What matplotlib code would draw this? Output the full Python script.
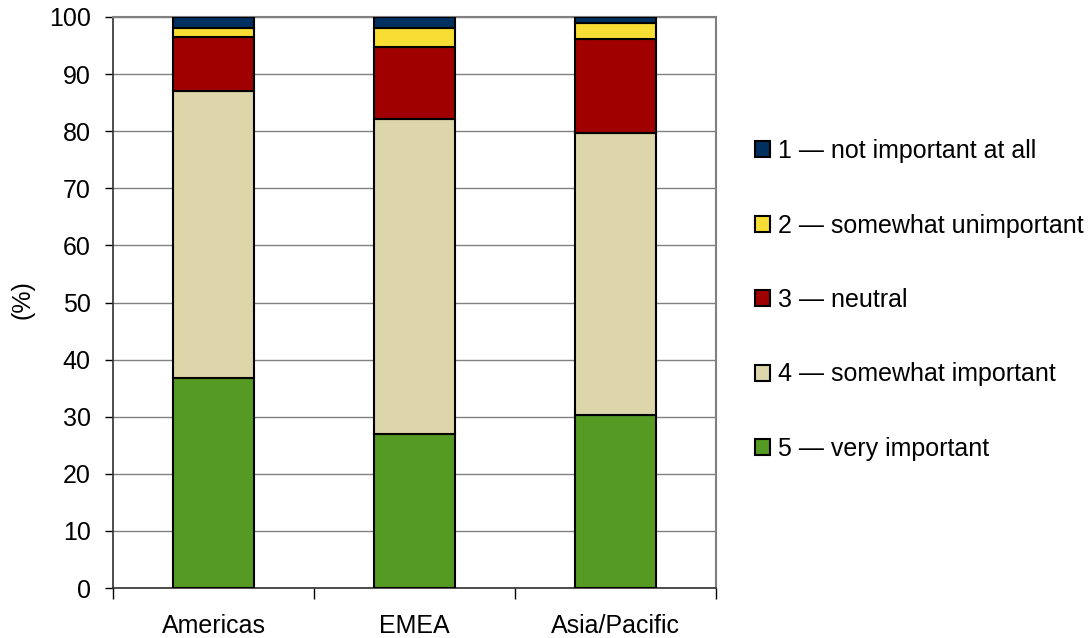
import matplotlib
matplotlib.use("Agg")
import matplotlib.pyplot as plt
from matplotlib.patches import Patch
import numpy as np

plt.rcParams['font.family'] = ['Liberation Sans', 'DejaVu Sans']

regions = ["Americas", "EMEA", "Asia/Pacific"]
series_labels = ["5 \u2014 very important", "4 \u2014 somewhat important",
                 "3 \u2014 neutral", "2 \u2014 somewhat unimportant",
                 "1 \u2014 not important at all"]
very_important = [36.8, 27.0, 30.3]
somewhat_important = [50.2, 55.2, 49.4]
neutral = [9.5, 12.6, 16.4]
somewhat_unimportant = [1.5, 3.2, 2.9]
not_important = [2.0, 2.0, 1.0]
colors = ["#559A22", "#DDD6AA", "#A00000", "#F8DE34", "#00305F"]

series = [very_important, somewhat_important, neutral,
          somewhat_unimportant, not_important]

FS = 18

fig = plt.figure(figsize=(10.92, 6.38), dpi=100)
ax = fig.add_axes([113 / 1092, 1 - 588 / 638, (716 - 113) / 1092, (588 - 17) / 638])

x = np.arange(len(regions))
bottom = np.zeros(len(regions))
for vals, col in zip(series, colors):
    ax.bar(x, vals, width=0.4, bottom=bottom, color=col,
           edgecolor="black", linewidth=1.5, zorder=3)
    bottom += np.array(vals)

ax.set_xlim(-0.5, len(regions) - 0.5)
ax.set_ylim(0, 100)
ax.set_yticks(np.arange(0, 101, 10))
ax.tick_params(axis='y', labelsize=FS, length=6, direction='out', width=1, pad=10)
ax.yaxis.grid(True, color="#808080", linewidth=1, zorder=0)
ax.set_axisbelow(True)

# category ticks sit between the groups
ax.set_xticks(np.arange(-0.5, len(regions), 1.0))
ax.set_xticklabels([])
ax.set_xticks(x, minor=True)
ax.set_xticklabels(regions, minor=True)
ax.tick_params(axis='x', which='major', length=8, width=1, color="black")
ax.tick_params(axis='x', which='minor', length=0, labelsize=FS, pad=19)

for s in ["top", "right"]:
    ax.spines[s].set_color("#808080")
    ax.spines[s].set_linewidth(1.5)
for s in ["left", "bottom"]:
    ax.spines[s].set_color("#303030")
    ax.spines[s].set_linewidth(1.2)

fig.text(22 / 1092, 1 - 300 / 638, "(%)", rotation=90, fontsize=FS,
         ha="center", va="center")

handles = [Patch(facecolor=c, edgecolor="black", linewidth=1.5) for c in colors]
leg = fig.legend(handles[::-1], series_labels[::-1], loc="upper left",
                 bbox_to_anchor=(745 / 1092, 1 - 129 / 638), frameon=False,
                 fontsize=FS, handlelength=0.6, handleheight=0.6,
                 handletextpad=0.3, labelspacing=2.02, borderaxespad=0)

fig.savefig("out.png", dpi=100)
